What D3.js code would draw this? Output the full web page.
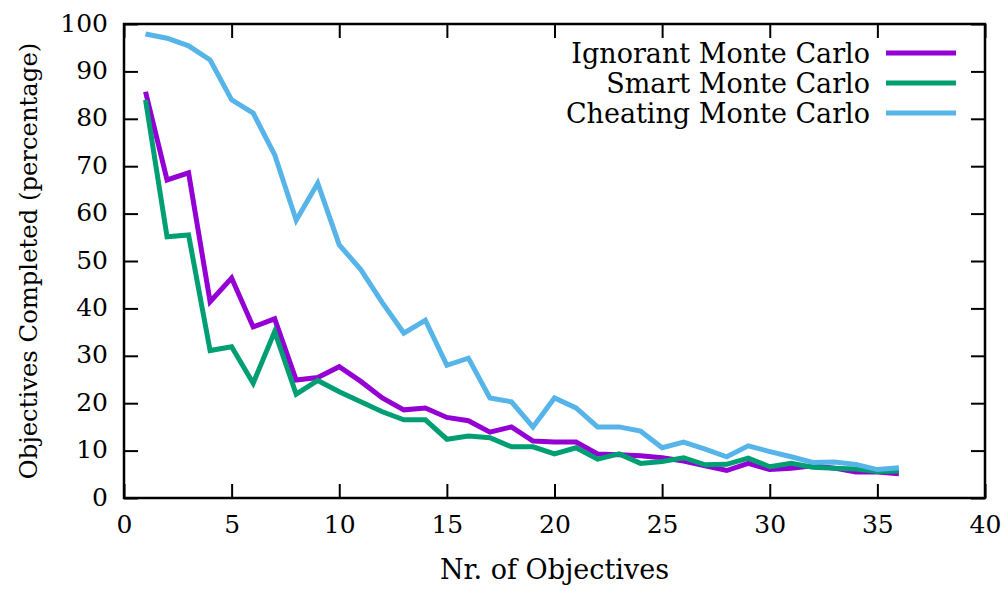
<!DOCTYPE html>
<html><head><meta charset="utf-8">
<script src="https://cdn.jsdelivr.net/npm/d3@7"></script>
<style>body{margin:0;background:#fff}</style>
</head><body><svg id="c" width="1005" height="590"></svg>
<script>
const objectives = d3.range(1, 37);
const ignorant = [85.7,67.1,68.6,41.4,46.4,36.1,37.8,24.9,25.4,27.7,24.6,21.1,18.6,19.0,17.0,16.3,13.9,15.0,12.0,11.8,11.8,9.3,9.1,8.9,8.5,7.8,6.8,5.8,7.3,6.0,6.3,6.8,6.3,5.5,5.5,5.1];
const smart    = [84.0,55.1,55.5,31.1,31.9,24.2,35.1,21.9,24.8,22.4,20.3,18.2,16.5,16.5,12.4,13.1,12.7,10.8,10.8,9.3,10.6,8.2,9.3,7.3,7.7,8.5,7.0,7.1,8.4,6.6,7.3,6.5,6.3,6.1,5.6,5.7];
const cheating = [97.9,97.0,95.4,92.4,84.0,81.2,72.4,58.6,66.4,53.4,48.2,41.2,34.8,37.5,28.0,29.5,21.1,20.3,15.0,21.1,19.0,15.0,15.0,14.1,10.6,11.8,10.3,8.7,11.0,9.8,8.7,7.5,7.6,7.1,6.0,6.4];
const seriesNames = ["Ignorant Monte Carlo","Smart Monte Carlo","Cheating Monte Carlo"];
const seriesColors = ["#9400d3","#009e73","#56b4e9"];
const xTicks = [0,5,10,15,20,25,30,35,40];
const yTicks = [0,10,20,30,40,50,60,70,80,90,100];

const FONT = "'DejaVu Serif', serif";
const svg = d3.select("#c");
const L=124, R=985, T=24, B=498;
const x = d3.scaleLinear().domain([0,40]).range([L,R]);
const y = d3.scaleLinear().domain([0,100]).range([B,T]);
const fsTick = 25, fsText = 27;

const tick = 14;
const gx = svg.append("g").attr("transform",`translate(0,${B})`)
  .call(d3.axisBottom(x).tickValues(xTicks).tickSize(-tick).tickPadding(17).tickFormat(d3.format("d")));
const gxt = svg.append("g").attr("transform",`translate(0,${T})`)
  .call(d3.axisTop(x).tickValues(xTicks).tickSize(-tick).tickFormat(""));
const gy = svg.append("g").attr("transform",`translate(${L},0)`)
  .call(d3.axisLeft(y).tickValues(yTicks).tickSize(-tick).tickPadding(16).tickFormat(d3.format("d")));
const gyr = svg.append("g").attr("transform",`translate(${R},0)`)
  .call(d3.axisRight(y).tickValues(yTicks).tickSize(-tick).tickFormat(""));
[gx,gxt,gy,gyr].forEach(g=>{
  g.attr("font-family",FONT).attr("font-size",fsTick);
  g.select(".domain").remove();
  g.selectAll(".tick line").attr("stroke","#000").attr("stroke-width",2);
  g.selectAll("text").attr("fill","#000");
});
gy.selectAll("text").attr("dy","0.28em");

svg.append("rect").attr("x",L).attr("y",T).attr("width",R-L).attr("height",B-T)
  .attr("fill","none").attr("stroke","#000").attr("stroke-width",2.5);

const line = d3.line().x((d,i)=>x(objectives[i])).y(d=>y(d));
[ignorant,smart,cheating].forEach((s,k)=>{
  svg.append("path").datum(s).attr("d",line).attr("fill","none")
    .attr("stroke",seriesColors[k]).attr("stroke-width",5).attr("stroke-linejoin","miter");
});

seriesNames.forEach((n,k)=>{
  const yy = 53 + k*30;
  svg.append("text").attr("x",870).attr("y",yy).attr("dy","0.36em").attr("text-anchor","end")
    .attr("font-family",FONT).attr("font-size",fsText).text(n);
  svg.append("line").attr("x1",886).attr("x2",956).attr("y1",yy).attr("y2",yy)
    .attr("stroke",seriesColors[k]).attr("stroke-width",5);
});

svg.append("text").attr("x",(L+R)/2).attr("y",579).attr("text-anchor","middle")
  .attr("font-family",FONT).attr("font-size",fsText).text("Nr. of Objectives");
svg.append("text").attr("transform",`translate(37,${(T+B)/2}) rotate(-90)`).attr("text-anchor","middle")
  .attr("font-family",FONT).attr("font-size",24.3).text("Objectives Completed (percentage)");
</script></body></html>
